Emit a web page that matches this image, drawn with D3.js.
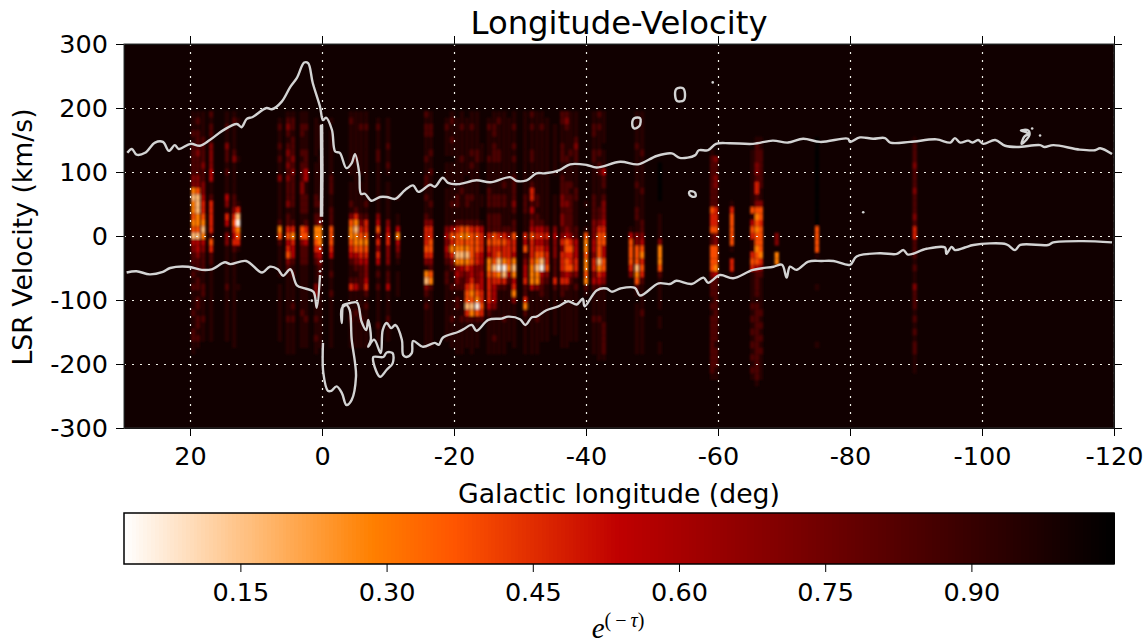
<!DOCTYPE html>
<html>
<head>
<meta charset="utf-8">
<script src="https://cdn.jsdelivr.net/npm/d3@7"></script>
<style>
  html, body { margin: 0; padding: 0; background: #fff; }
  svg { display: block; }
  text { font-family: "DejaVu Sans", sans-serif; fill: #000; }
  .tick text { font-size: 25.5px; }
</style>
</head>
<body>
<div id="chart"></div>
<script>
////////////////////////////////////////////////////////////////////////
// Data

let lonTicks = [20, 0, -20, -40, -60, -80, -100, -120];
let velTicks = [300, 200, 100, 0, -100, -200, -300];
let colorbarTicks = [0.15, 0.30, 0.45, 0.60, 0.75, 0.90];

// depth levels used by the sightline strings: digit -> e^(-tau), 0 means no cell, x is the blacked out part
let levelValues = { 1: 0.94, 2: 0.84, 3: 0.71, 4: 0.59, 5: 0.48, 6: 0.39, 7: 0.29, 8: 0.17, 9: 0.06, x: 1.04 };

// top to bottom velocity of the sightline strings, one char per 10 km/s
let velBins = d3.range(190, -240, -10);

// longitude of each sightline
let sightLons = [
  19.5, 18.8, 18, 16.8, 14.4, 13.3, 12.7,
  6.4, 5.15, 4.4, 3.03, 2.4, 0.9, 0.3, -1.4,
  -4.4, -5.15, -5.9, -6.7, -8.5, -10, -11.5, -15.8, -16.5,
  -18.9, -19.7, -20.5, -21.2, -22, -22.7, -23.5, -24.2,
  -25.3, -26.1, -26.8, -27.6, -28.3, -29.1, -30.8, -31.8, -32.6, -33.3, -34.1, -35.3,
  -36.4, -37.1, -37.7, -38.5, -40, -41.2, -42, -42.7,
  -46.8, -47.7, -48.5, -51.2, -59.1, -59.7, -62.1,
  -65.2, -65.9, -66.5, -68.9, -75, -89.8
];

// one string per sightline, grouped in fives for reading
let sightDepths = [
  "11121 22222 33787 76768 43221 21211 12112 21100 000",
  "12122 23222 33688 87768 44322 12212 21221 21000 000",
  "11112 22232 23345 56787 43222 11221 11211 10000 000",
  "21221 33334 41125 55552 65221 11111 11111 10000 000",
  "11211 32212 11143 15413 31111 11211 11111 10000 000",
  "12111 12311 11122 35654 52111 11111 11111 11000 000",
  "01000 00100 00001 58976 51000 00100 00000 00000 000",
  "01211 21211 31111 11276 21111 10111 11111 10000 000",
  "12321 23232 32223 12256 45632 11111 11211 11100 000",
  "12212 22323 22222 11257 54421 21111 21211 11100 000",
  "11221 12122 23322 21166 32221 11111 12111 11000 000",
  "11211 12224 41122 21256 42221 11111 11211 11000 000",
  "01111 11011 11122 12277 65321 11331 11211 21100 000",
  "00111 10111 11112 12377 75432 21111 11111 11000 000",
  "01011 11111 22211 22266 65411 21121 11111 11000 000",
  "12111 11111 01112 13677 65421 12511 11211 11000 000",
  "11111 11211 11111 25787 76432 12411 12111 11000 000",
  "11211 11111 01111 12356 76542 22211 11211 11000 000",
  "11211 11111 11112 12556 76543 34521 21111 11000 000",
  "01211 12211 11111 13463 53541 21211 11121 10000 000",
  "01111 21121 01111 11345 53331 22411 11211 10000 000",
  "00000 00000 00010 01147 43210 11110 00000 00000 000",
  "21221 11211 22121 12355 56531 78321 21111 11000 000",
  "11221 12112 11112 11355 66532 67211 11111 11000 000",
  "01211 11011 10111 11134 34321 22111 11111 10000 000",
  "12112 11011 11112 11146 57532 11211 11211 11000 000",
  "01111 11111 11122 11256 67873 43212 21111 11100 000",
  "11211 11211 11211 11267 67874 32211 11211 11100 000",
  "01111 11111 01122 11267 67875 33566 85211 11000 000",
  "11211 12121 11121 11256 66664 45676 87211 11100 000",
  "11111 12211 11111 11256 66553 33567 96211 11000 000",
  "00000 11100 00011 00145 55443 44455 65200 00000 000",
  "01211 11211 11222 12225 65477 65555 42111 11100 000",
  "11221 22211 11122 12226 65568 65444 31111 21100 000",
  "12111 12211 11122 12225 65689 75211 11111 11100 000",
  "11111 11111 12122 11125 65579 85211 11211 11100 000",
  "01111 11111 11111 11123 55567 42111 11111 10000 000",
  "11211 21211 22223 21226 55478 74573 11111 11000 000",
  "11111 11111 11122 21115 46234 45225 72111 11100 000",
  "21211 12211 12552 42346 55567 77411 11111 11100 000",
  "11111 11111 11122 12245 45678 77311 11211 11100 000",
  "11211 11111 11111 11245 45689 43221 11111 10000 000",
  "01111 11111 11111 11135 34556 32111 11111 10000 000",
  "00111 11111 00011 11134 33322 25211 11111 00000 000",
  "22111 22211 22233 23323 53555 35221 11111 11000 000",
  "23211 11211 12223 22234 66566 45211 11111 11000 000",
  "11111 12111 12122 22223 56556 32111 11111 10000 000",
  "11112 32211 11221 11122 44455 31211 11111 10000 000",
  "00000 00000 00001 00016 77677 67210 00000 00000 000",
  "11221 12211 11122 22333 44355 34211 11211 11100 000",
  "21211 12122 11111 22356 66687 54211 11211 11110 000",
  "11111 01114 22123 33456 64466 43111 11122 22210 000",
  "00000 00000 00000 00014 66665 30000 00000 00000 000",
  "11111 21111 12111 22113 36668 76210 11111 11100 000",
  "11111 12111 11211 11223 46756 52111 12111 11100 000",
  "00000 000xx xxxx0 01111 37776 21111 10110 01100 000",
  "00000 01222 22222 65562 26666 32221 21222 22222 210",
  "00000 00322 33222 55563 36667 42222 22222 21222 110",
  "00000 00000 00001 56666 61055 10000 00000 00000 000",
  "00000 01111 11111 61465 11565 11111 21212 12121 210",
  "00001 22233 25523 67676 67664 22221 22222 22222 221",
  "00001 12222 22113 66566 66753 21111 12121 21211 110",
  "00000 00000 00000 00003 30770 00000 00000 00000 000",
  "0000x xxxxx xxxxx xxx66 66100 00100 00000 01000 000",
  "00001 22232 22322 23255 22212 11322 21212 12211 100"
];

// outer contour of the emission: [longitude, velocity]
let contourUpper = [
  [29.5,130],[28.8,136],[28.1,127],[26.8,130],[25.3,146],[24.1,147],[23.2,133],[22.3,142],[21.7,136],[19.9,144],
  [18.5,141],[17,150],[15,165],[12.9,175],[12.2,170],[11.4,183],[10.5,186],[8.4,200],[7.6,198],[6.1,210],
  [4.8,233],[3.8,247],[2.7,271],[2.1,270],[1.4,239],[0.3,202],[-0.15,181],[-0.6,185],[-1.5,166],[-2,132],
  [-2.7,130],[-3.7,106],[-4.5,114],[-5,128],[-5.65,98],[-5.9,66],[-6.5,66],[-7.5,55],[-8.8,61],[-9.8,61],
  [-11.1,58],[-12.6,72],[-13.8,79],[-14.6,69],[-16.4,80],[-17.1,77],[-18.3,91],[-19.1,83],[-20.6,81],[-23.4,87],
  [-25.5,84],[-28.5,92],[-29.5,86],[-31,87],[-32.5,98],[-33.8,98],[-36,103],[-37.6,112],[-40.1,111],[-41.6,107],
  [-45.2,116],[-47.9,112],[-50.7,125],[-53,129],[-54.2,122],[-56.5,126],[-57.1,134],[-58.5,134],[-59.7,144],[-61.8,145],
  [-65.3,144],[-68.3,149],[-70.6,146],[-72.9,152],[-75.5,147],[-79.7,152],[-80,147],[-81.5,154],[-83.5,152],[-85.3,153],
  [-86.1,146],[-89.1,147],[-93.1,151],[-95.2,146],[-95.9,153],[-96.7,146],[-97.9,149],[-98.6,146],[-99.4,150],[-100.2,144],
  [-102,150],[-103.5,141],[-105.3,139],[-108.8,142],[-109.5,139],[-110.8,142],[-114.8,135],[-117.1,134],[-117.9,137],[-119.7,128]
];

let contourLowerLeft = [
  [29.6,-57],[28.1,-55],[26.1,-60],[24.1,-56],[23,-50],[20.3,-48],[18.2,-53],[16.7,-52],[14.7,-41],[13.9,-44],
  [11.5,-39],[9.1,-57],[7.9,-48],[6.7,-52],[5.9,-62],[4.8,-52],[3.8,-77],[2.6,-82],[1.3,-87],[0.8,-112],[0.3,-61]
];

let contourSpike = [[0.15,30],[0.1,100],[0.15,172],[0,172],[-0.05,100],[0,30]];

let contourLowerRight = [
  [-0.15,-167],[-0.2,-214],[-0.9,-242],[-1.4,-242],[-2.2,-235],[-3,-245],[-3.7,-264],[-4.5,-256],[-5.15,-220],[-5,-198],
  [-4.5,-162],[-4.2,-116],[-3.7,-108],[-3,-113],[-3,-136],[-3.1,-113],[-3.2,-108],[-4.2,-105],[-5.3,-104],[-6,-134],
  [-6.7,-147],[-7,-131],[-7.4,-162],[-7,-173],[-7.9,-162],[-8.9,-183],[-9.2,-147],[-9.8,-136],[-10.5,-144],[-11.1,-139],
  [-12.1,-162],[-12.3,-186],[-12.8,-189],[-13.6,-183],[-13.8,-164],[-15.3,-173],[-17.1,-167],[-17.7,-170],[-18.3,-159],[-20.6,-150],
  [-21.4,-146],[-22.7,-139],[-23.4,-148],[-25.2,-131],[-27.2,-129],[-28.2,-126],[-30,-130],[-30.8,-139],[-31.8,-127],[-32.5,-126],
  [-34,-116],[-35.8,-110],[-37.3,-102],[-38.6,-107],[-39.5,-98],[-39.8,-110],[-41.6,-85],[-43.1,-82],[-43.9,-87],[-45.2,-82],
  [-47.4,-81],[-48.2,-93],[-51,-74],[-52.7,-75],[-53.7,-70],[-56,-75],[-57.8,-65],[-58.5,-73],[-60.3,-61],[-62.3,-66],
  [-65.3,-53],[-68.4,-48],[-69.7,-45],[-70.4,-65],[-70.9,-48],[-71.9,-53],[-73.7,-40],[-75.7,-39],[-77.5,-39],[-80,-45],
  [-81,-32],[-84.5,-27],[-87.1,-28],[-88.1,-22],[-88.8,-29],[-91.6,-20],[-94.4,-18],[-94.6,-28],[-95.4,-17],[-95.9,-22],
  [-97.4,-18],[-98.7,-14],[-103.7,-13],[-105,-22],[-105.8,-14],[-110,-14],[-110.8,-10],[-115.3,-8],[-119.7,-10]
];

// small closed contours
let contourLoops = [
  [[-7.8,-189],[-7.8,-198],[-8.8,-220],[-9.8,-209],[-10.7,-199],[-10.7,-183],[-9.8,-182],[-9.3,-189]],
  [[-53.7,230],[-54.7,231],[-55,222],[-54.8,212],[-53.8,211],[-53.5,220]],
  [[-47.3,184],[-48.2,184],[-48.1,172],[-47.3,168],[-47,176]],
  [[-55.8,70],[-56.5,68],[-56.6,62],[-56,62],[-55.6,67]],
  [[-105.9,165],[-107,165],[-107.2,158],[-106.7,150],[-106,144],[-106.4,155],[-107,160]]
];

let contourDots = [
  [-82,37],[-108.8,157],[-59.2,240],[-107.6,168],[0.3,22],[0.3,-20],[0.2,-40],[0.3,-55],[1.55,-101]
];




////////////////////////////////////////////////////////////////////////
// Global variables for the svg

let width = 1148;
let height = 644;
let plot = { left: 124, right: 1114, top: 44, bottom: 428 };
let bar = { left: 124, right: 1114, top: 513, bottom: 564 };

let svg = d3.select("#chart")
  .append("svg")
  .attr("width", width).attr("height", height);

let xScale = d3.scaleLinear().domain([30, -120]).range([plot.left, plot.right]);
let yScale = d3.scaleLinear().domain([-300, 300]).range([plot.bottom, plot.top]);

// gist_heat reversed between the colorbar limits
let vmin = 0.0306, vmax = 1.0463;
let heatStops = [0, 0.25, 1 / 3, 0.5, 1];
let heatColor = d3.scaleLinear()
  .domain(heatStops.map(function(t) { return vmin + t * (vmax - vmin); }))
  .range(["#ffffff", "#ff8000", "#ff5500", "#bf0000", "#000000"])
  .clamp(true);

let barScale = d3.scaleLinear().domain([vmin, vmax]).range([bar.left, bar.right]);




////////////////////////////////////////////////////////////////////////
// Heat map

let defs = svg.append("defs");
defs.append("clipPath").attr("id", "plotclip")
  .append("rect")
  .attr("x", plot.left).attr("y", plot.top)
  .attr("width", plot.right - plot.left).attr("height", plot.bottom - plot.top);
defs.append("filter").attr("id", "smooth")
  .attr("filterUnits", "userSpaceOnUse")
  .attr("x", 0).attr("y", 0).attr("width", width).attr("height", height)
  .append("feGaussianBlur").attr("stdDeviation", 1.1);

svg.append("rect")
  .attr("x", plot.left).attr("y", plot.top)
  .attr("width", plot.right - plot.left).attr("height", plot.bottom - plot.top)
  .attr("fill", heatColor(1.0));

// flatten the strings into one record per filled cell
let cells = [];
sightDepths.forEach(function(str, i) {
  let chars = str.replace(/ /g, "");
  velBins.forEach(function(vel, j) {
    let value = levelValues[chars[j]];
    if (value) cells.push({ lon: sightLons[i], vel: vel, value: value });
  });
});

let lonStep = 0.65, velStep = 10;

svg.append("g")
  .attr("clip-path", "url(#plotclip)")
  .append("g")
  .attr("filter", "url(#smooth)")
  .selectAll("rect")
  .data(cells)
  .enter()
  .append("rect")
  .attr("x", function(d) { return xScale(d.lon + lonStep / 2); })
  .attr("y", function(d) { return yScale(d.vel + velStep / 2); })
  .attr("width", xScale(0) - xScale(lonStep))
  .attr("height", yScale(0) - yScale(velStep))
  .attr("fill", function(d) { return heatColor(d.value); });




////////////////////////////////////////////////////////////////////////
// Grid and contours

let grid = svg.append("g")
  .attr("fill", "none").attr("stroke", "#f0f0e8").attr("stroke-width", 1.2)
  .attr("stroke-dasharray", "2 6");

grid.selectAll(".vgrid").data(lonTicks).enter().append("line")
  .attr("x1", function(d) { return Math.round(xScale(d)) + 0.5; })
  .attr("x2", function(d) { return Math.round(xScale(d)) + 0.5; })
  .attr("y1", plot.top).attr("y2", plot.bottom);
grid.selectAll(".hgrid").data(velTicks).enter().append("line")
  .attr("y1", function(d) { return Math.round(yScale(d)) + 0.5; })
  .attr("y2", function(d) { return Math.round(yScale(d)) + 0.5; })
  .attr("x1", plot.left).attr("x2", plot.right);

let line = d3.line()
  .curve(d3.curveCatmullRom.alpha(0.5))
  .x(function(d) { return xScale(d[0]); })
  .y(function(d) { return yScale(d[1]); });

let loopLine = d3.line()
  .curve(d3.curveCatmullRomClosed.alpha(0.5))
  .x(function(d) { return xScale(d[0]); })
  .y(function(d) { return yScale(d[1]); });

let contours = svg.append("g")
  .attr("clip-path", "url(#plotclip)")
  .attr("fill", "none").attr("stroke", "#d3d3d3")
  .attr("stroke-width", 2.4).attr("stroke-linejoin", "round");

contours.selectAll(".contour")
  .data([contourUpper, contourLowerLeft, contourLowerRight])
  .enter().append("path")
  .attr("class", "contour")
  .attr("d", line);

contours.append("path")
  .datum(contourSpike)
  .attr("stroke-width", 2.6)
  .attr("d", d3.line()
    .x(function(d) { return xScale(d[0]); })
    .y(function(d) { return yScale(d[1]); }));

contours.selectAll(".loop")
  .data(contourLoops)
  .enter().append("path")
  .attr("class", "loop")
  .attr("d", loopLine);

contours.selectAll(".dot")
  .data(contourDots)
  .enter().append("circle")
  .attr("class", "dot")
  .attr("cx", function(d) { return xScale(d[0]); })
  .attr("cy", function(d) { return yScale(d[1]); })
  .attr("r", 1.3)
  .attr("fill", "#d3d3d3").attr("stroke", "none");




////////////////////////////////////////////////////////////////////////
// Axes

function plainLabel(d) { return String(d); }

svg.append("g")
  .attr("transform", "translate(0," + plot.bottom + ")")
  .call(d3.axisBottom(xScale).tickValues(lonTicks).tickFormat(plainLabel).tickSize(8).tickSizeOuter(0).tickPadding(11));
svg.append("g")
  .attr("transform", "translate(0," + plot.top + ")")
  .call(d3.axisTop(xScale).tickValues(lonTicks).tickFormat("").tickSize(8).tickSizeOuter(0));
svg.append("g")
  .attr("transform", "translate(" + plot.left + ",0)")
  .call(d3.axisLeft(yScale).tickValues(velTicks).tickFormat(plainLabel).tickSize(8).tickSizeOuter(0).tickPadding(8));
svg.append("g")
  .attr("transform", "translate(" + plot.right + ",0)")
  .call(d3.axisRight(yScale).tickValues(velTicks).tickFormat("").tickSize(8).tickSizeOuter(0));

svg.append("rect")
  .attr("x", plot.left).attr("y", plot.top)
  .attr("width", plot.right - plot.left).attr("height", plot.bottom - plot.top)
  .attr("fill", "none").attr("stroke", "#333").attr("stroke-width", 1);

svg.append("text")
  .attr("x", 619).attr("y", 34)
  .attr("text-anchor", "middle").style("font-size", "32.3px")
  .text("Longitude-Velocity");
svg.append("text")
  .attr("x", 619).attr("y", 503)
  .attr("text-anchor", "middle").style("font-size", "26.7px")
  .text("Galactic longitude (deg)");
svg.append("text")
  .attr("transform", "translate(32,237) rotate(-90)")
  .attr("text-anchor", "middle").style("font-size", "26.7px")
  .text("LSR Velocity (km/s)");




////////////////////////////////////////////////////////////////////////
// Colorbar

let barSteps = d3.range(256);
let barStep = (vmax - vmin) / barSteps.length;

svg.append("g")
  .attr("shape-rendering", "crispEdges")
  .selectAll("rect")
  .data(barSteps)
  .enter().append("rect")
  .attr("x", function(d) { return barScale(vmin + d * barStep); })
  .attr("y", bar.top)
  .attr("width", barScale(vmin + barStep) - barScale(vmin) + 1)
  .attr("height", bar.bottom - bar.top)
  .attr("fill", function(d) { return heatColor(vmin + (d + 0.5) * barStep); });

svg.append("rect")
  .attr("x", bar.left).attr("y", bar.top)
  .attr("width", bar.right - bar.left).attr("height", bar.bottom - bar.top)
  .attr("fill", "none").attr("stroke", "#000").attr("stroke-width", 1.5);

svg.append("g")
  .attr("transform", "translate(0," + bar.bottom + ")")
  .call(d3.axisBottom(barScale).tickValues(colorbarTicks).tickFormat(d3.format(".2f")).tickSize(8).tickSizeOuter(0).tickPadding(11))
  .select(".domain").remove();

let tauLabel = svg.append("text")
  .attr("x", 618).attr("y", 638)
  .attr("text-anchor", "middle")
  .style("font-family", "'Liberation Serif', serif");
tauLabel.append("tspan").style("font-size", "29px").style("font-style", "italic").text("e");
tauLabel.append("tspan").attr("dy", -11).style("font-size", "20px").text("(\u2009\u2212\u2009");
tauLabel.append("tspan").style("font-size", "20px").style("font-style", "italic").text("\u03c4");
tauLabel.append("tspan").style("font-size", "20px").text(")");
</script>
</body>
</html>
